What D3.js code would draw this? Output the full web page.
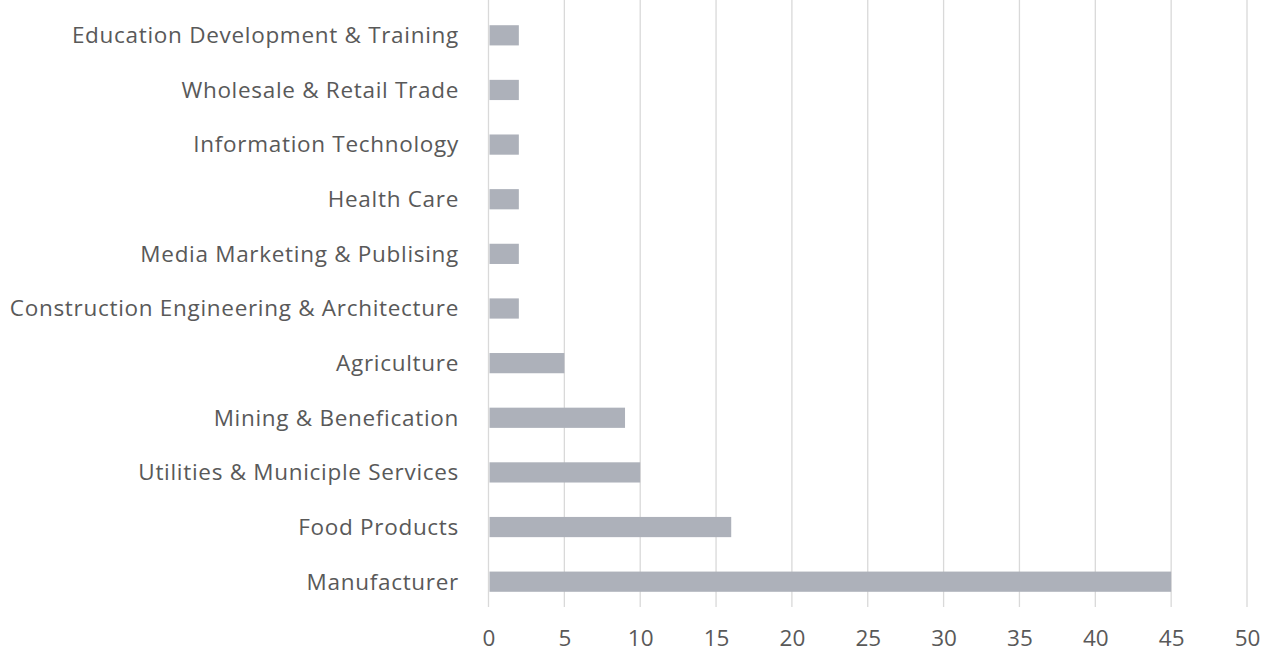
<!DOCTYPE html>
<html>
<head>
<meta charset="utf-8">
<script src="https://cdn.jsdelivr.net/npm/d3@7"></script>
<style>
  body { margin: 0; background: #fff; }
  text { font-family: "Open Sans", "Noto Sans", sans-serif; fill: #595959; }
</style>
</head>
<body>
<div class="chart"></div>
<script>
// categories, top to bottom
var categories = [
  "Education Development & Training",
  "Wholesale & Retail Trade",
  "Information Technology",
  "Health Care",
  "Media Marketing & Publising",
  "Construction Engineering & Architecture",
  "Agriculture",
  "Mining & Benefication",
  "Utilities & Municiple Services",
  "Food Products",
  "Manufacturer"
];
var values = [2, 2, 2, 2, 2, 2, 5, 9, 10, 16, 45];
var xTicks = [0, 5, 10, 15, 20, 25, 30, 35, 40, 45, 50];

var width = 1272, height = 653;
var margin = {top: 8, right: 25, bottom: 44, left: 488.5};

var svg = d3.select(".chart")
    .append("svg")
    .attr("width", width)
    .attr("height", height);

var x = d3.scaleLinear()
    .domain([0, 50])
    .range([margin.left, width - margin.right]);

var y = d3.scaleBand()
    .domain(categories)
    .range([margin.top, height - margin.bottom])
    .paddingInner(0.63)
    .paddingOuter(0.315);

// vertical grid lines
svg.append("g")
    .selectAll("line")
    .data(xTicks)
    .enter()
    .append("line")
    .attr("x1", d => x(d))
    .attr("x2", d => x(d))
    .attr("y1", 0)
    .attr("y2", 607)
    .style("stroke", "#d9d9d9")
    .style("stroke-width", 1.3);

// bars
svg.append("g")
    .selectAll("rect")
    .data(values)
    .enter()
    .append("rect")
    .attr("x", x(0) + 1)
    .attr("y", (d, i) => y(categories[i]))
    .attr("width", d => x(d) - x(0) - 1)
    .attr("height", y.bandwidth())
    .style("fill", "#adb1ba");

// category labels
svg.append("g")
    .selectAll("text")
    .data(categories)
    .enter()
    .append("text")
    .attr("x", 459)
    .attr("y", d => y(d) + y.bandwidth() / 2)
    .attr("dy", "0.35em")
    .attr("text-anchor", "end")
    .style("font-size", "22.5px")
    .style("letter-spacing", "0.7px")
    .text(d => d);

// x axis labels
var axisX = svg.append("g")
    .attr("transform", "translate(0," + 607 + ")")
    .call(d3.axisBottom(x).tickValues(xTicks).tickSize(0).tickPadding(23));
axisX.select(".domain").remove();
axisX.selectAll("text")
    .style("font-size", "22.5px")
    .style("font-family", "\"Open Sans\", \"Noto Sans\", sans-serif")
    .attr("fill", "#595959");
</script>
</body>
</html>
